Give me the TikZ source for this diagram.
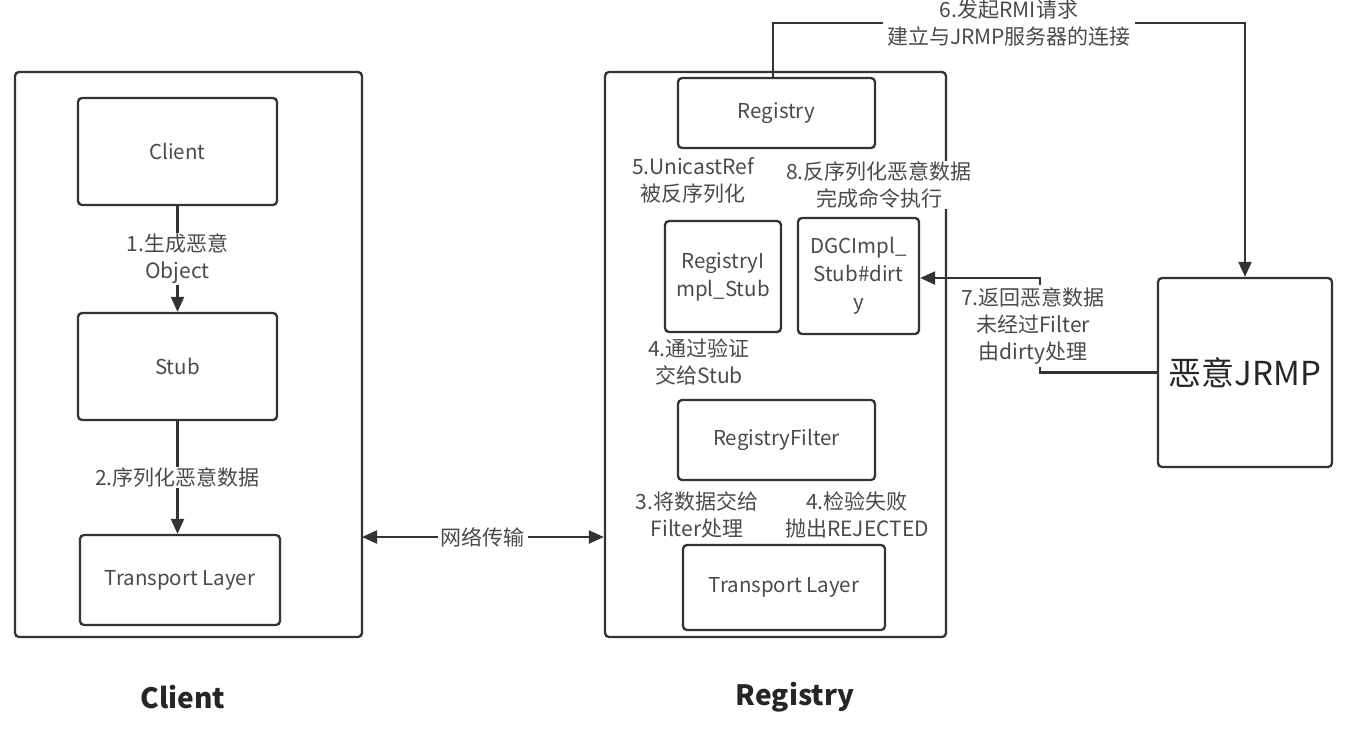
\documentclass[tikz,border=0pt]{standalone}
\usepackage{fontspec}
\setmainfont{Noto Sans CJK SC}
\usetikzlibrary{arrows.meta,calc}
\definecolor{ln}{HTML}{333333}
\definecolor{tx}{HTML}{4A4A4A}
\tikzset{
  bx/.style={draw=ln, line width=2.3pt, rounded corners=4pt, text=tx, inner sep=0pt, align=center, font=\fontsize{20.5}{28}\selectfont},
  conn/.style={draw=ln, line width=2.3pt},
  arr/.style={conn, -{Triangle[length=15pt,width=13pt]}},
  darr/.style={conn, {Triangle[length=15pt,width=13pt]}-{Triangle[length=15pt,width=13pt]}},
  lbl/.style={fill=white, text=tx, align=center, inner sep=1pt, font=\fontsize{21}{27}\selectfont},
  big/.style={text=black!85, font=\fontsize{28}{32}\selectfont\bfseries}
}
\begin{document}
\begin{tikzpicture}[x=1pt,y=-1pt]
\useasboundingbox (0,0) rectangle (1348,728);
% outer boxes
\node[bx, minimum width=347pt, minimum height=565pt] (cout) at (188.5,354.5) {};
\node[bx, minimum width=341pt, minimum height=565pt] (rout) at (775.5,354.5) {};
% client side
\node[bx, minimum width=199pt, minimum height=107pt] (client) at (177.5,151.5) {Client};
\node[bx, minimum width=199pt, minimum height=107pt] (stub) at (177.5,366.5) {Stub};
\node[bx, minimum width=200pt, minimum height=90pt] (tl) at (180,580) {Transport Layer};
% registry side
\node[bx, minimum width=197pt, minimum height=70pt] (reg) at (776.5,113) {Registry};
\node[bx, minimum width=116pt, minimum height=111pt] (ris) at (723,276.5) {RegistryI\\mpl\_Stub};
\node[bx, minimum width=121pt, minimum height=116pt] (dgc) at (858.5,276) {DGCImpl\_\\Stub\#dirt\\y};
\node[bx, minimum width=197pt, minimum height=80pt] (rf) at (776.5,440) {RegistryFilter};
\node[bx, minimum width=202pt, minimum height=85pt] (tr) at (784,587.5) {Transport Layer};
% JRMP
\node[bx, minimum width=174pt, minimum height=189pt, text=black!85, font=\fontsize{33}{36}\selectfont] (jrmp) at (1245,372.5) {恶意JRMP};
% client arrows
\draw[arr] (client.south) -- node[lbl] {1.生成恶意\\Object} (stub.north);
\draw[arr] (stub.south) -- node[lbl] {2.序列化恶意数据} (stub.south |- tl.north);
% network
\coordinate (na) at (362,537);
\draw[darr] (na) -- node[lbl, inner sep=3pt] {网络传输} (rout.west |- na);
% registry labels
\node[lbl] (l5) at (693,180) {5.UnicastRef\\被反序列化};
\node[lbl] (l8) at (879,185) {8.反序列化恶意数据\\完成命令执行};
\node[lbl] (l4a) at (699,362) {4.通过验证\\交给Stub};
\node[lbl] (l3) at (697,515) {3.将数据交给\\Filter处理};
\node[lbl] (l4b) at (857,515) {4.检验失败\\抛出REJECTED};
% arrow 6
\coordinate (c6) at (773,23);
\draw[arr] (reg.north -| c6) -- (c6) -- node[lbl, inner sep=4pt] {6.发起RMI请求\\建立与JRMP服务器的连接} (c6 -| jrmp.north) -- (jrmp.north);
% arrow 7
\coordinate (c7) at (1040,278);
\draw[arr] (jrmp.west) -- (jrmp.west -| c7) -- (c7) -- (dgc.east |- c7);
\node[lbl, inner sep=3pt] (l7) at (1033,326) {7.返回恶意数据\\未经过Filter\\由dirty处理};
% titles
\node[big] (tc) at (183,697) {Client};
\node[big] (trg) at (795,697) {Registry};
\end{tikzpicture}
\end{document}
